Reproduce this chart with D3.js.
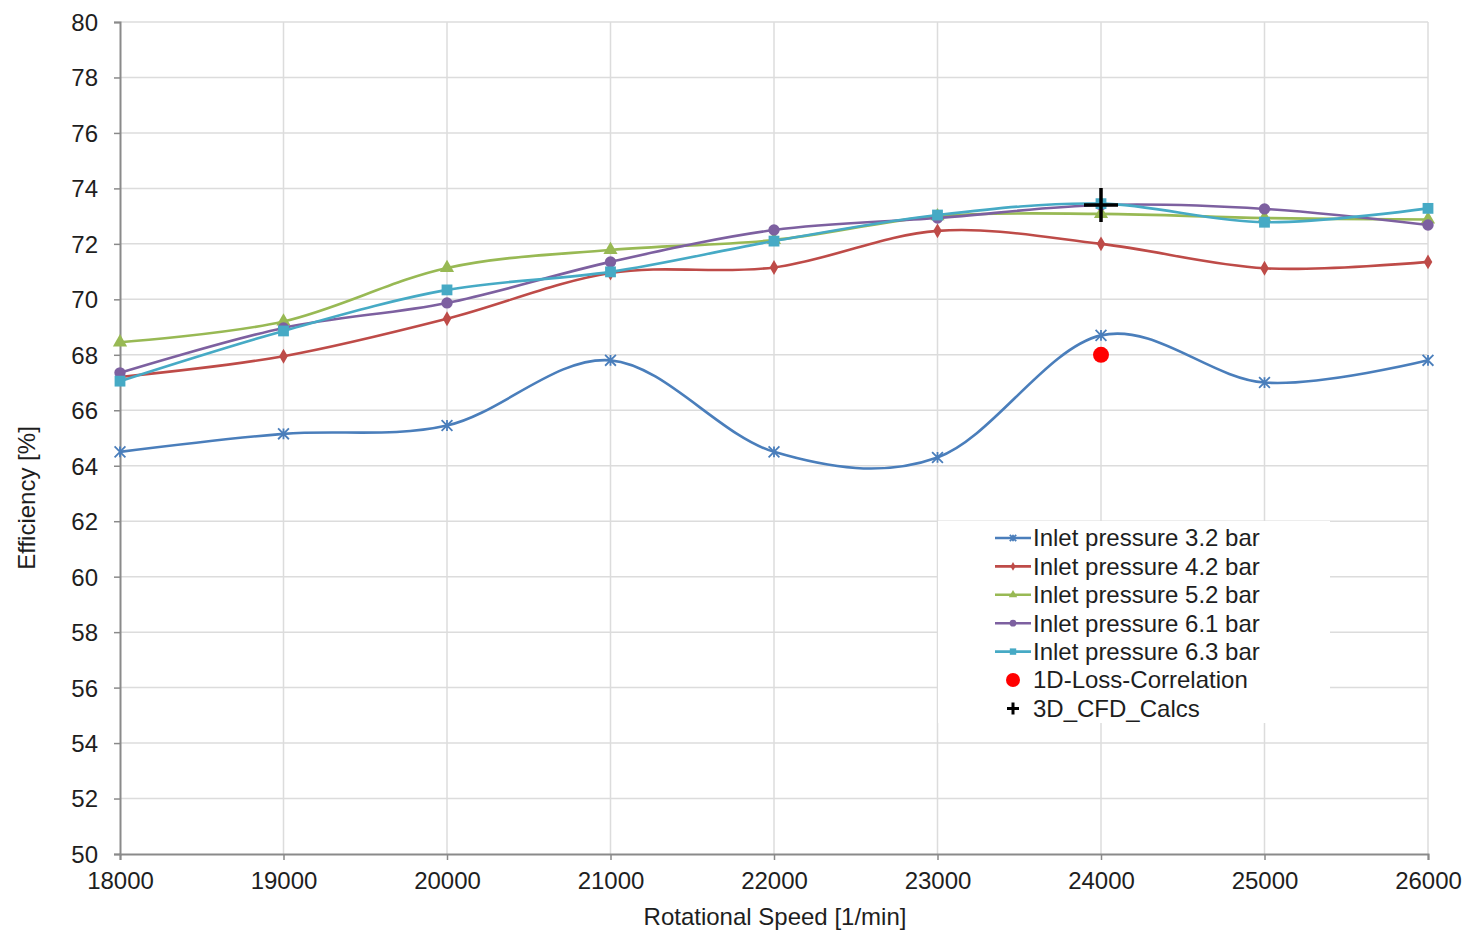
<!DOCTYPE html>
<html>
<head>
<meta charset="utf-8">
<script src="https://cdn.jsdelivr.net/npm/d3@7"></script>
<style>
  body { margin: 0; background: #fff; }
  text { font-family: "Liberation Sans", Arial, sans-serif; fill: #1e1e1e; }
</style>
</head>
<body>
<script>
// data
var speeds = [18000, 19000, 20000, 21000, 22000, 23000, 24000, 25000, 26000];
var p32 = [64.5, 65.15, 65.45, 67.8, 64.5, 64.3, 68.7, 67.0, 67.8];
var p42 = [67.2, 67.95, 69.3, 70.95, 71.15, 72.47, 72.0, 71.12, 71.35];
var p52 = [68.45, 69.2, 71.13, 71.78, 72.14, 73.0, 73.08, 72.93, 72.88];
var p61 = [67.35, 68.97, 69.87, 71.35, 72.5, 72.93, 73.4, 73.26, 72.68];
var p63 = [67.05, 68.86, 70.34, 70.99, 72.1, 73.04, 73.45, 72.78, 73.28];
var lossCorr = [{x: 24000, y: 68.0}];
var cfdCalc = [{x: 24000, y: 73.4}];
var xTicks = [18000, 19000, 20000, 21000, 22000, 23000, 24000, 25000, 26000];
var yTicks = d3.range(50, 81, 2);
var seriesNames = ['Inlet pressure 3.2 bar', 'Inlet pressure 4.2 bar', 'Inlet pressure 5.2 bar',
                   'Inlet pressure 6.1 bar', 'Inlet pressure 6.3 bar'];
var colors = ['#4a7ebb', '#be4b48', '#98b954', '#7d60a0', '#46aac5'];
var markers = ['star', 'diamond', 'triangle', 'circle', 'square'];

var series = [p32, p42, p52, p61, p63].map(function(vals, i) {
  return {
    name: seriesNames[i], color: colors[i], marker: markers[i],
    points: vals.map(function(v, j) { return {x: speeds[j], y: v}; })
  };
});

var svg = d3.select('body').append('svg')
  .attr('width', 1470).attr('height', 932);

var x = d3.scaleLinear().domain([18000, 26000]).range([120, 1428]);
var y = d3.scaleLinear().domain([50, 80]).range([854, 22]);
var fs = 24;

// grid
svg.append('g').selectAll('line.gx').data(xTicks.slice(1)).enter().append('line')
  .attr('x1', function(d) { return x(d); }).attr('x2', function(d) { return x(d); })
  .attr('y1', y(80)).attr('y2', y(50))
  .attr('stroke', '#dcdcdc').attr('stroke-width', 1.5);
svg.append('g').selectAll('line.gy').data(yTicks.slice(1)).enter().append('line')
  .attr('x1', x(18000)).attr('x2', x(26000))
  .attr('y1', function(d) { return y(d); }).attr('y2', function(d) { return y(d); })
  .attr('stroke', '#dcdcdc').attr('stroke-width', 1.5);

// legend background (hides grid)
var lg = svg.append('g').attr('transform', 'translate(938,521)');
lg.append('rect').attr('width', 392).attr('height', 202).attr('fill', '#fff');

// axes
var xAxis = svg.append('g').attr('transform', 'translate(0,' + y(50) + ')')
  .call(d3.axisBottom(x).tickValues(xTicks).tickFormat(d3.format('d')).tickSize(6).tickPadding(12));
var yAxis = svg.append('g').attr('transform', 'translate(' + x(18000) + ',0)')
  .call(d3.axisLeft(y).tickValues(yTicks).tickSize(6).tickPadding(16));
[xAxis, yAxis].forEach(function(a) {
  a.select('.domain').attr('stroke', '#8a8a8a').attr('stroke-width', 2);
  a.selectAll('.tick line').attr('stroke', '#8a8a8a').attr('stroke-width', 1.5);
  a.selectAll('.tick text').attr('font-size', fs).attr('fill', '#1e1e1e')
    .style('font-family', '"Liberation Sans", Arial, sans-serif');
});
yAxis.selectAll('.tick text').attr('dy', '0.35em');

// axis titles
svg.append('text').attr('x', 775).attr('y', 925).attr('text-anchor', 'middle')
  .attr('font-size', fs).text('Rotational Speed [1/min]');
svg.append('text').attr('transform', 'translate(35,498) rotate(-90)').attr('text-anchor', 'middle')
  .attr('font-size', fs).text('Efficiency [%]');

var line = d3.line()
  .x(function(d) { return x(d.x); })
  .y(function(d) { return y(d.y); })
  .curve(d3.curveCatmullRom.alpha(0));

function drawMarker(g, type, color, size) {
  var s = size;
  if (type === 'star') {
    g.append('path')
      .attr('d', 'M' + (-s) + ',' + (-s) + 'L' + s + ',' + s + 'M' + (-s) + ',' + s + 'L' + s + ',' + (-s) + 'M0,' + (-s) + 'L0,' + s)
      .attr('stroke', color).attr('stroke-width', 1.8).attr('fill', 'none');
  } else if (type === 'diamond') {
    g.append('path').attr('d', d3.symbol(d3.symbolDiamond, s * s * 2.2)).attr('fill', color);
  } else if (type === 'triangle') {
    g.append('path').attr('d', d3.symbol(d3.symbolTriangle, s * s * 3)).attr('fill', color);
  } else if (type === 'circle') {
    g.append('circle').attr('r', s * 1.05).attr('fill', color);
  } else if (type === 'square') {
    g.append('rect').attr('x', -s).attr('y', -s).attr('width', 2 * s).attr('height', 2 * s).attr('fill', color);
  }
}

series.forEach(function(s) {
  var g = svg.append('g');
  g.append('path').datum(s.points).attr('d', line)
    .attr('fill', 'none').attr('stroke', s.color).attr('stroke-width', 2.6);
  g.selectAll('g.m').data(s.points).enter().append('g')
    .attr('transform', function(d) { return 'translate(' + x(d.x) + ',' + y(d.y) + ')'; })
    .each(function() { drawMarker(d3.select(this), s.marker, s.color, 5.4); });
});

// single points
svg.selectAll('circle.loss').data(lossCorr).enter().append('circle')
  .attr('cx', function(d) { return x(d.x); }).attr('cy', function(d) { return y(d.y); })
  .attr('r', 8).attr('fill', '#ff0000');
svg.selectAll('path.cfd').data(cfdCalc).enter().append('path')
  .attr('transform', function(d) { return 'translate(' + x(d.x) + ',' + y(d.y) + ')'; })
  .attr('d', 'M-17,0L17,0M0,-17L0,17')
  .attr('stroke', '#000').attr('stroke-width', 3.5);

// legend
var rowH = 28.4;
series.forEach(function(s, i) {
  var row = lg.append('g').attr('transform', 'translate(0,' + (17 + i * rowH) + ')');
  row.append('line').attr('x1', 57).attr('x2', 93).attr('stroke', s.color).attr('stroke-width', 2.6);
  var m = row.append('g').attr('transform', 'translate(75,0)');
  drawMarker(m, s.marker, s.color, 3.2);
  row.append('text').attr('x', 95).attr('dy', '0.35em').attr('font-size', fs).text(s.name);
});
var r6 = lg.append('g').attr('transform', 'translate(0,' + (17 + 5 * rowH) + ')');
r6.append('circle').attr('cx', 75).attr('r', 7).attr('fill', '#ff0000');
r6.append('text').attr('x', 95).attr('dy', '0.35em').attr('font-size', fs).text('1D-Loss-Correlation');
var r7 = lg.append('g').attr('transform', 'translate(0,' + (17 + 6 * rowH) + ')');
r7.append('path').attr('transform', 'translate(75,0)').attr('d', 'M-6,0L6,0M0,-6L0,6')
  .attr('stroke', '#000').attr('stroke-width', 3);
r7.append('text').attr('x', 95).attr('dy', '0.35em').attr('font-size', fs).text('3D_CFD_Calcs');
</script>
</body>
</html>
